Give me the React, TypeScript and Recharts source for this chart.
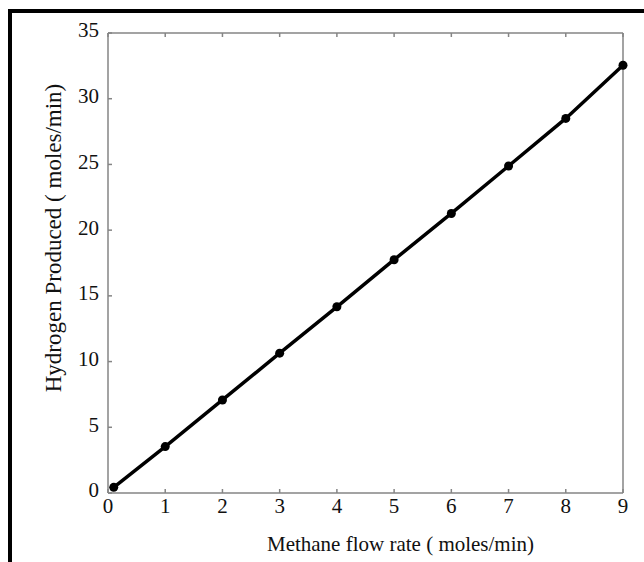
import { LineChart, Line, XAxis, YAxis, Label } from 'recharts'

// methane flow rate (moles/min)
const flowRate = [0.1, 1, 2, 3, 4, 5, 6, 7, 8, 9]
// hydrogen produced (moles/min)
const hydrogen = [0.43, 3.53, 7.08, 10.64, 14.17, 17.75, 21.27, 24.88, 28.5, 32.55]

const xTicks = [0, 1, 2, 3, 4, 5, 6, 7, 8, 9]
const yTicks = [0, 5, 10, 15, 20, 25, 30, 35]

const data = flowRate.map((x, i) => ({ x, h: hydrogen[i] }))

const font = '"Liberation Serif", "Times New Roman", serif'
const axisGrey = '#858585'

function YTitle(props: any) {
  const vb = props.viewBox
  const x = vb.x + 61
  const y = vb.y + vb.height / 2 - 25
  return (
    <text x={x} y={y} transform={`rotate(-90, ${x}, ${y})`} textAnchor="middle"
      fontFamily={font} fontSize={23} fill="#111">
      Hydrogen Produced ( moles/min)
    </text>
  )
}

function XTitle(props: any) {
  const vb = props.viewBox
  const x = vb.x + vb.width / 2 + 35
  return (
    <text x={x} y={551} textAnchor="middle" fontFamily={font} fontSize={21} fill="#111">
      Methane flow rate ( moles/min)
    </text>
  )
}

export default function App() {
  return (
    <div style={{ position: 'absolute', left: 0, top: 0, width: 644, height: 562, overflow: 'hidden', background: '#fff' }}>
      <div style={{ position: 'absolute', left: 8, top: 9, width: 640, height: 560, borderLeft: '4px solid #000', borderTop: '4px solid #000' }} />
      <div style={{ position: 'absolute', left: 0, top: 0 }}>
        <LineChart width={644} height={562} data={data} margin={{ top: 13, right: 11, bottom: 0, left: 0 }}>
          <XAxis xAxisId="b" dataKey="x" type="number" domain={[0, 9]} ticks={xTicks} height={69}
            tickSize={-4} tickMargin={9} interval={0}
            axisLine={{ stroke: axisGrey, strokeWidth: 1.5 }} tickLine={{ stroke: axisGrey, strokeWidth: 1.5 }}
            tick={{ fontFamily: font, fontSize: 21, fill: '#111' }}>
            <Label content={<XTitle />} />
          </XAxis>
          <XAxis xAxisId="t" orientation="top" dataKey="x" type="number" domain={[0, 9]} ticks={xTicks} height={20}
            tickSize={-4} interval={0} tick={() => <g />}
            axisLine={{ stroke: axisGrey, strokeWidth: 1.5 }} tickLine={{ stroke: axisGrey, strokeWidth: 1.5 }} />
          <YAxis yAxisId="l" type="number" domain={[0, 35]} ticks={yTicks} width={108}
            tickSize={-4} tickMargin={13} interval={0}
            axisLine={{ stroke: axisGrey, strokeWidth: 1.5 }} tickLine={{ stroke: axisGrey, strokeWidth: 1.5 }}
            tick={{ fontFamily: font, fontSize: 21, fill: '#111', dy: -3 }}>
            <Label content={<YTitle />} />
          </YAxis>
          <YAxis yAxisId="r" orientation="right" type="number" domain={[0, 35]} ticks={yTicks} width={10}
            tickSize={-4} interval={0} tick={() => <g />}
            axisLine={{ stroke: axisGrey, strokeWidth: 1.5 }} tickLine={{ stroke: axisGrey, strokeWidth: 1.5 }} />
          <Line xAxisId="b" yAxisId="l" dataKey="h" type="linear" stroke="#000" strokeWidth={3.5}
            dot={{ r: 4.5, fill: '#000', stroke: '#000', strokeWidth: 0 }} isAnimationActive={false} />
        </LineChart>
      </div>
    </div>
  )
}
